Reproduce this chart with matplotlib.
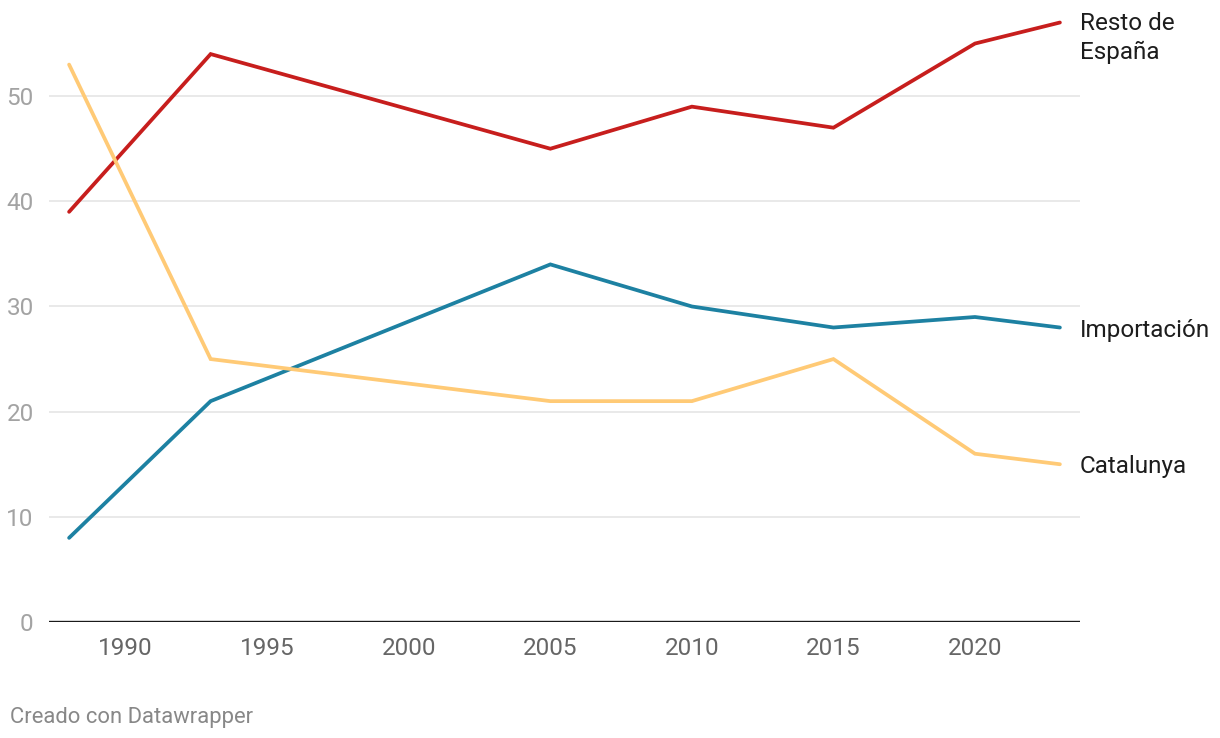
import matplotlib
matplotlib.use("Agg")
import matplotlib.pyplot as plt

years = [1988, 1993, 2005, 2010, 2015, 2020, 2023]
resto = [39, 54, 45, 49, 47, 55, 57]
importacion = [8, 21, 34, 30, 28, 29, 28]
catalunya = [53, 25, 21, 21, 25, 16, 15]
series_names = ["Resto de\nEspaña", "Importación", "Catalunya"]
colors = ["#c71e1d", "#1d81a2", "#ffca76"]
xticks = [1990, 1995, 2000, 2005, 2010, 2015, 2020]
yticks = [0, 10, 20, 30, 40, 50]

plt.rcParams['font.family'] = ['Roboto', 'DejaVu Sans']

W, H = 1220, 738
fig = plt.figure(figsize=(W/100, H/100), dpi=100)
left, right = 49, 1080
y0, ytop = 622, 12
ax = fig.add_axes([left/W, (H-y0)/H, (right-left)/W, (y0-ytop)/H])
ax.set_xlim(1987.29, 2023.71)
ax.set_ylim(0, 58)

for s in ax.spines.values():
    s.set_visible(False)
for t in yticks[1:]:
    ax.axhline(t, color="#e3e3e3", lw=1.1, zorder=1)
ax.axhline(0, color="#1a1a1a", lw=1.7, zorder=3)

data = [resto, importacion, catalunya]
for vals, c in zip(data, colors):
    ax.plot(years, vals, color=c, lw=2.7, solid_capstyle='round', solid_joinstyle='miter', zorder=2, clip_on=False)

fs = 17.5
ax.set_xticks(xticks)
ax.set_xticklabels([str(x) for x in xticks], fontsize=fs, color="#666666")
ax.tick_params(axis='x', length=0, pad=11)
ax.set_yticks(yticks)
ax.set_yticklabels([str(y) for y in yticks], fontsize=fs, color="#a3a3a3")
ax.tick_params(axis='y', length=0, pad=11)
for lab in ax.get_yticklabels():
    lab.set_verticalalignment('center_baseline')

# line labels
ax.annotate(series_names[0], xy=(years[-1], resto[-1]), xytext=(14.4, 7.3), textcoords='offset points',
            fontsize=fs, color="#1d1d1d", va='top', ha='left', linespacing=1.28,
            annotation_clip=False)
for name, vals in zip(series_names[1:], data[1:]):
    ax.annotate(name, xy=(years[-1], vals[-1]), xytext=(14.4, 0), textcoords='offset points',
                fontsize=fs, color="#1d1d1d", va='center_baseline', ha='left', annotation_clip=False)

fig.text(10/W, 1 - 715/H, "Creado con Datawrapper", fontsize=15.8, color="#888888", ha='left', va='center_baseline')

fig.savefig("out.png", dpi=100, facecolor="white")
